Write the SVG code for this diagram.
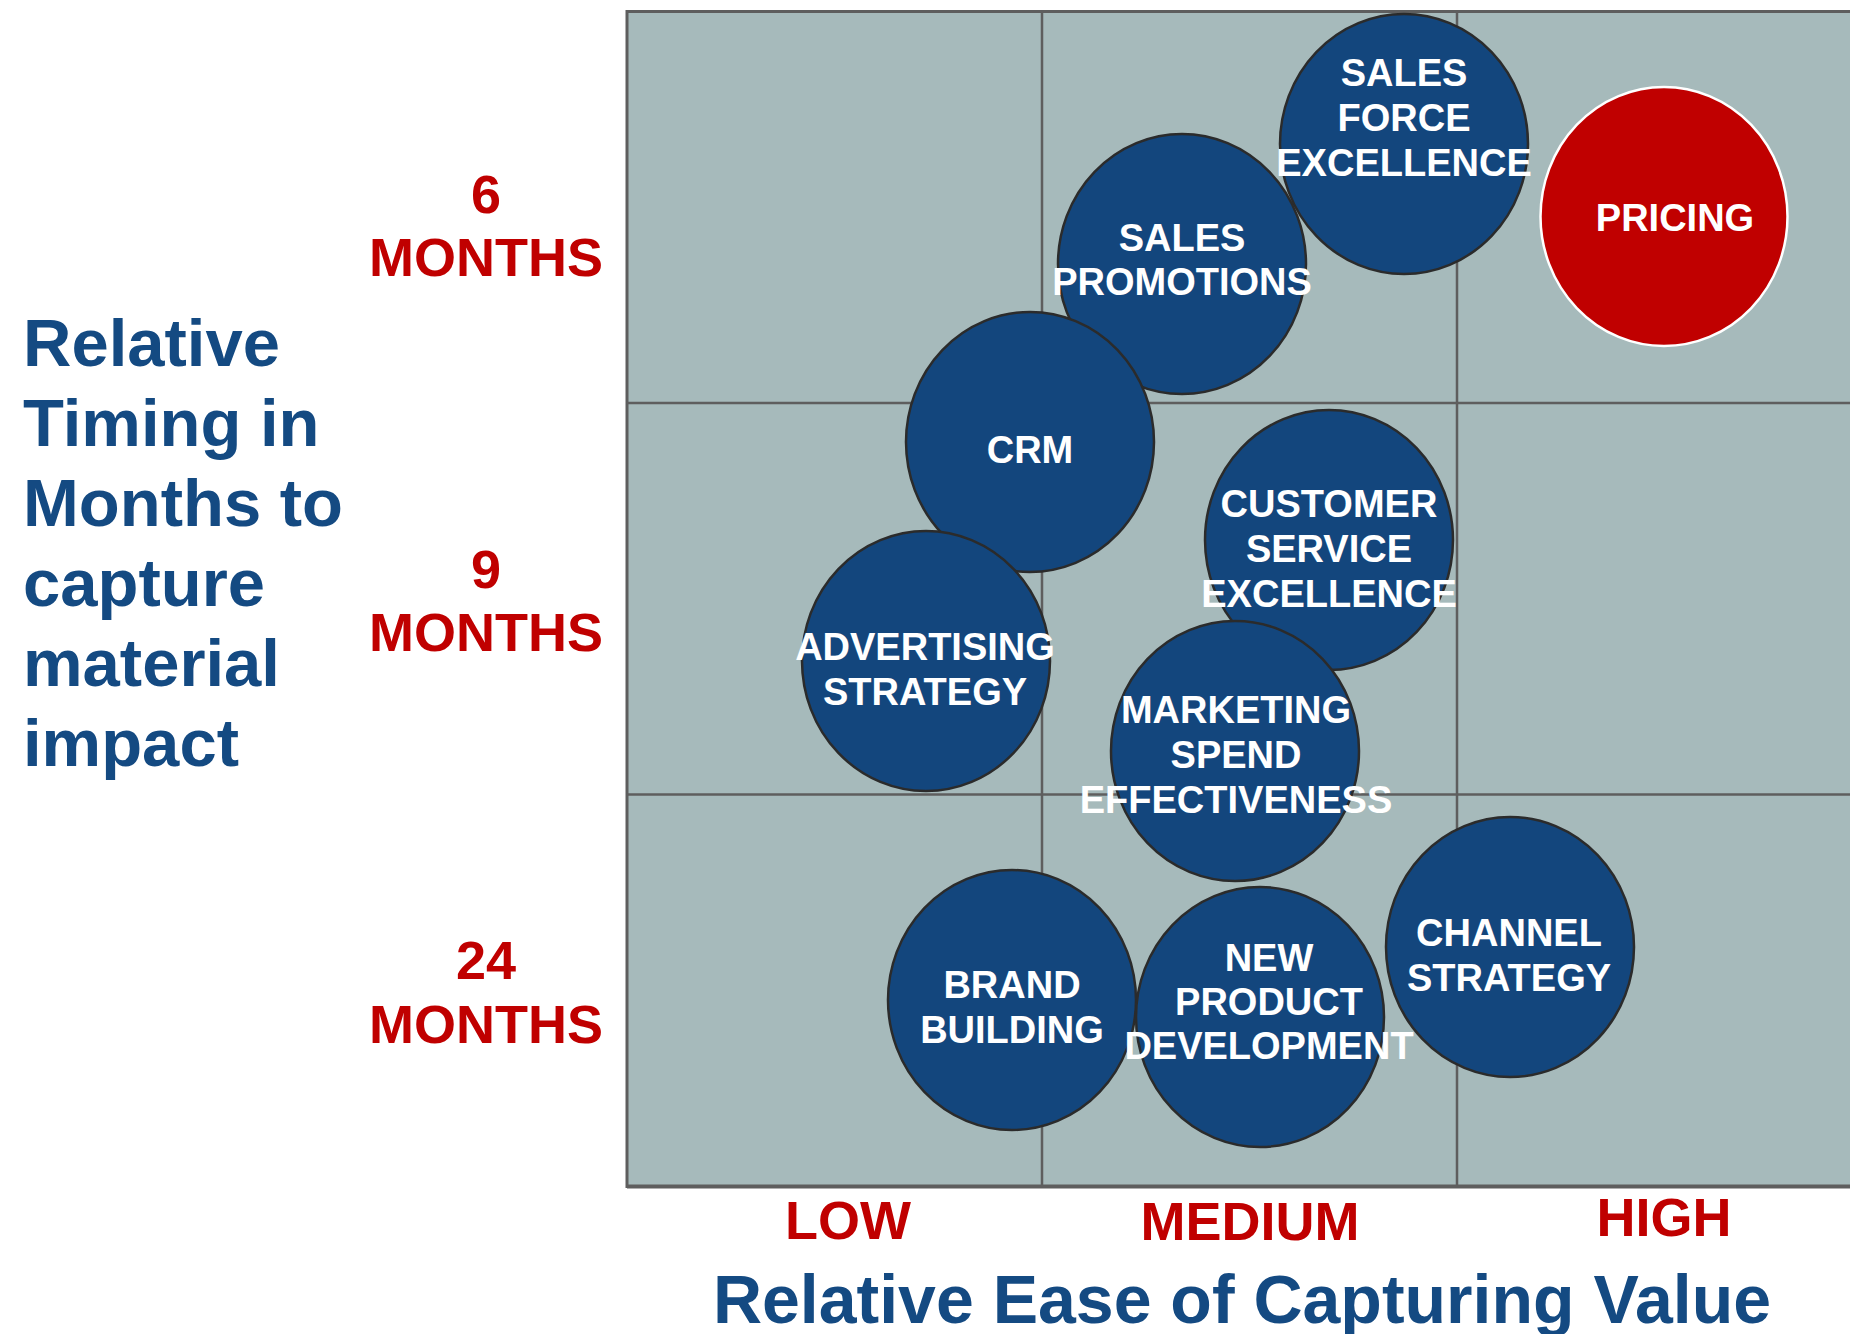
<svg xmlns="http://www.w3.org/2000/svg" width="1850" height="1334" viewBox="0 0 1850 1334">
  <style>
    .grid-bg { fill: #a6babb; stroke: #5e5e5e; stroke-width: 3; }
    .grid-line { stroke: #5e5e5e; stroke-width: 2.5; fill: none; }
    .bubble { fill: #13467d; stroke: #2b2b2b; stroke-width: 2.5; }
    .bubble-hot { fill: #c00000; stroke: #ffffff; stroke-width: 2.5; }
    .lbl { font-family: "Liberation Sans", Arial, sans-serif; font-weight: bold; font-size: 38px; fill: #ffffff; text-anchor: middle; }
    .tick { font-family: "Liberation Sans", Arial, sans-serif; font-weight: bold; font-size: 54px; fill: #c00000; text-anchor: middle; }
    .axis { font-family: "Liberation Sans", Arial, sans-serif; font-weight: bold; fill: #144a82; }
  </style>

  <rect width="1850" height="1334" fill="#ffffff"/>

  <!-- 3x3 matrix background -->
  <g id="matrix">
    <rect class="grid-bg" x="627" y="11.5" width="1240" height="1175"/>
    <line class="grid-line" x1="1042" y1="11.5" x2="1042" y2="1186.5"/>
    <line class="grid-line" x1="1457" y1="11.5" x2="1457" y2="1186.5"/>
    <line class="grid-line" x1="627" y1="403" x2="1850" y2="403"/>
    <line class="grid-line" x1="627" y1="794.5" x2="1850" y2="794.5"/>
    <line x1="627" y1="1186.5" x2="1850" y2="1186.5" stroke="#5e5e5e" stroke-width="4"/>
  </g>

  <!-- no connectors in this chart -->
  <g id="connectors"/>

  <!-- vertical axis -->
  <g id="y-axis-title" class="axis" font-size="67">
    <text x="23" y="366">Relative</text>
    <text x="23" y="446">Timing in</text>
    <text x="23" y="526">Months to</text>
    <text x="23" y="606">capture</text>
    <text x="23" y="686">material</text>
    <text x="23" y="766">impact</text>
  </g>
  <g id="y-ticks">
    <text class="tick" x="486" y="213">6</text>
    <text class="tick" x="486" y="276">MONTHS</text>
    <text class="tick" x="486" y="588">9</text>
    <text class="tick" x="486" y="651">MONTHS</text>
    <text class="tick" x="486" y="979">24</text>
    <text class="tick" x="486" y="1043">MONTHS</text>
  </g>

  <!-- horizontal axis -->
  <g id="x-ticks">
    <text class="tick" x="848" y="1239">LOW</text>
    <text class="tick" x="1250" y="1240">MEDIUM</text>
    <text class="tick" x="1664" y="1236">HIGH</text>
  </g>
  <text id="x-axis-title" class="axis" font-size="68" x="1242" y="1323" text-anchor="middle">Relative Ease of Capturing Value</text>

  <!-- initiative bubbles -->
  <g id="sales-force-excellence">
    <ellipse class="bubble" cx="1404" cy="144" rx="124" ry="130"/>
    <text class="lbl" x="1404" y="86">SALES</text>
    <text class="lbl" x="1404" y="131">FORCE</text>
    <text class="lbl" x="1404" y="176">EXCELLENCE</text>
  </g>
  <g id="sales-promotions">
    <ellipse class="bubble" cx="1182" cy="264" rx="124" ry="130"/>
    <text class="lbl" x="1182" y="251">SALES</text>
    <text class="lbl" x="1182" y="295">PROMOTIONS</text>
  </g>
  <g id="crm">
    <ellipse class="bubble" cx="1030" cy="442" rx="124" ry="130"/>
    <text class="lbl" x="1030" y="463">CRM</text>
  </g>
  <g id="advertising-strategy">
    <ellipse class="bubble" cx="926" cy="661" rx="124" ry="130"/>
    <text class="lbl" x="925" y="660">ADVERTISING</text>
    <text class="lbl" x="925" y="705">STRATEGY</text>
  </g>
  <g id="customer-service-excellence">
    <ellipse class="bubble" cx="1329" cy="540" rx="124" ry="130"/>
    <text class="lbl" x="1329" y="517">CUSTOMER</text>
    <text class="lbl" x="1329" y="562">SERVICE</text>
    <text class="lbl" x="1329" y="607">EXCELLENCE</text>
  </g>
  <g id="marketing-spend-effectiveness">
    <ellipse class="bubble" cx="1235" cy="751" rx="124" ry="130"/>
    <text class="lbl" x="1236" y="723">MARKETING</text>
    <text class="lbl" x="1236" y="768">SPEND</text>
    <text class="lbl" x="1236" y="813">EFFECTIVENESS</text>
  </g>
  <g id="brand-building">
    <ellipse class="bubble" cx="1012" cy="1000" rx="124" ry="130"/>
    <text class="lbl" x="1012" y="998">BRAND</text>
    <text class="lbl" x="1012" y="1043">BUILDING</text>
  </g>
  <g id="channel-strategy">
    <ellipse class="bubble" cx="1510" cy="947" rx="124" ry="130"/>
    <text class="lbl" x="1509" y="946">CHANNEL</text>
    <text class="lbl" x="1509" y="991">STRATEGY</text>
  </g>
  <g id="new-product-development">
    <ellipse class="bubble" cx="1260" cy="1017" rx="124" ry="130"/>
    <text class="lbl" x="1269" y="971">NEW</text>
    <text class="lbl" x="1269" y="1015">PRODUCT</text>
    <text class="lbl" x="1269" y="1059">DEVELOPMENT</text>
  </g>
  <g id="pricing">
    <ellipse class="bubble-hot" cx="1664" cy="216.5" rx="123.5" ry="129.5"/>
    <text class="lbl" x="1675" y="231" font-size="40">PRICING</text>
  </g>
</svg>
